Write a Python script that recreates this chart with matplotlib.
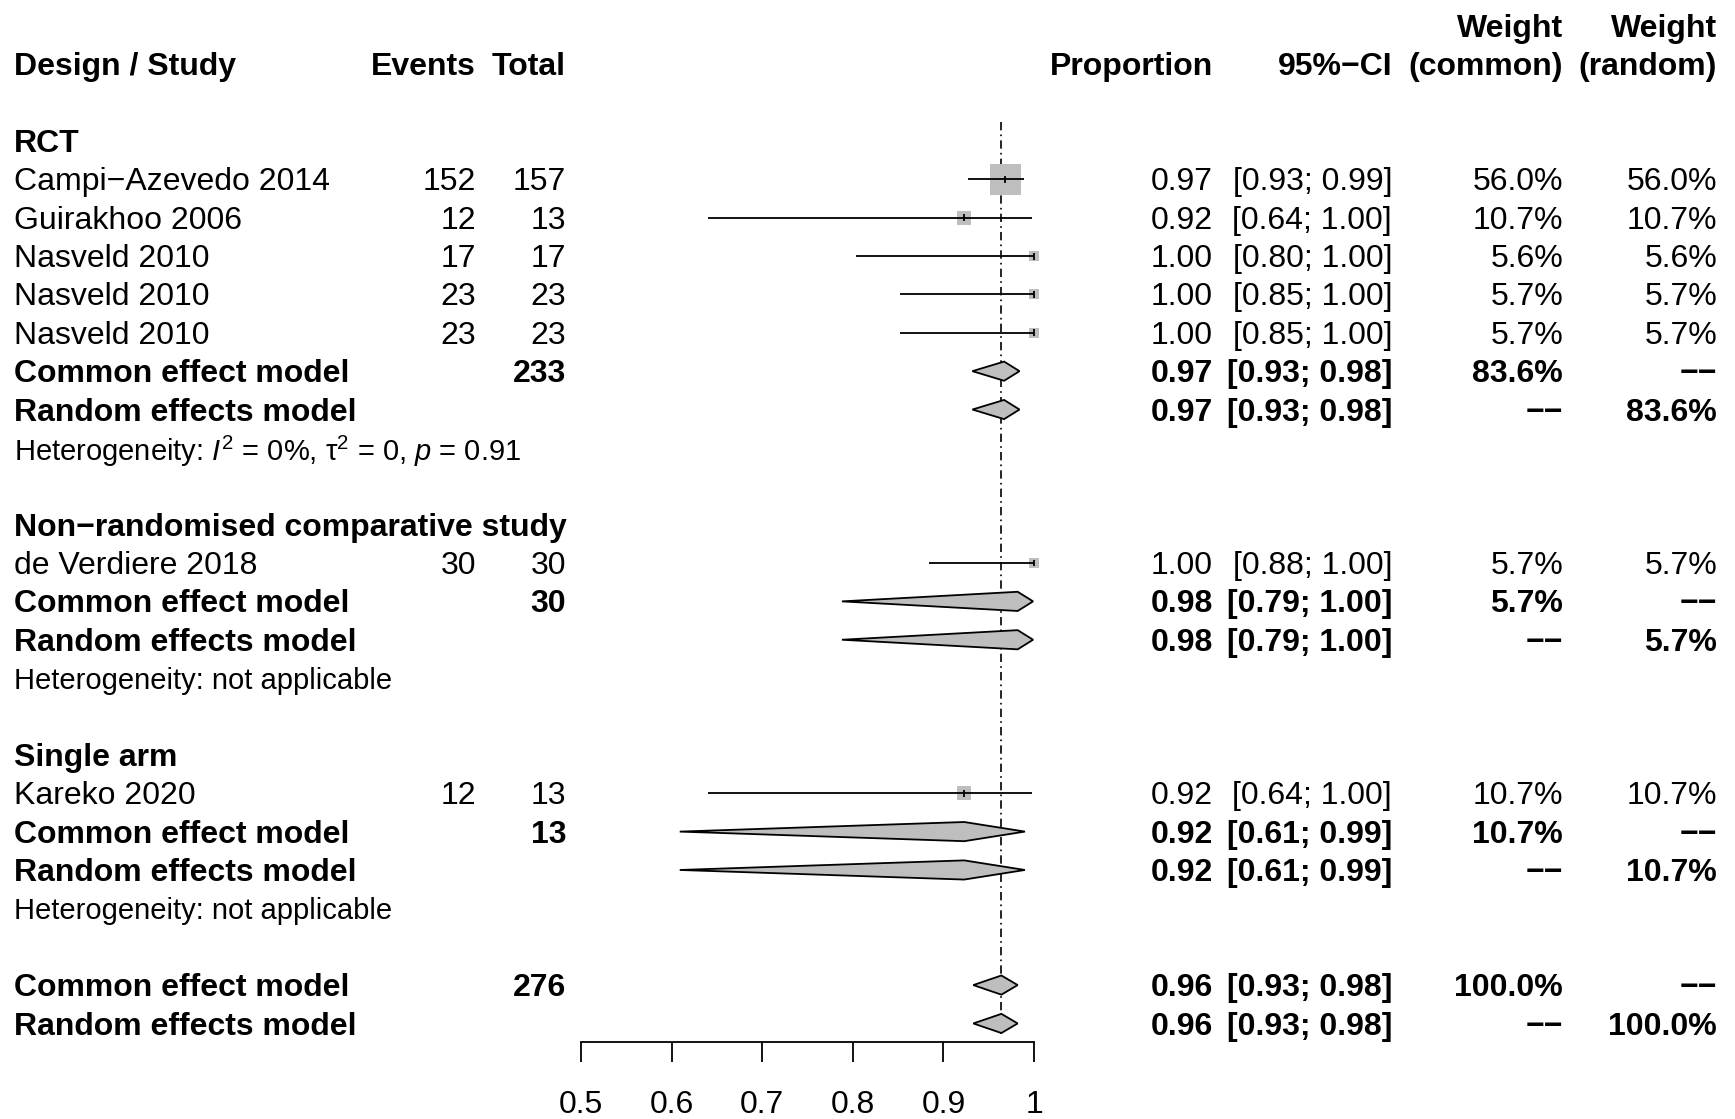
import numpy as np
import matplotlib
matplotlib.use("Agg")
import matplotlib.pyplot as plt
from matplotlib.patches import Polygon

plt.rcParams['font.family'] = ['Liberation Sans', 'DejaVu Sans']
plt.rcParams['mathtext.fontset'] = 'custom'
plt.rcParams['mathtext.rm'] = 'Liberation Sans'
plt.rcParams['mathtext.it'] = 'Liberation Sans:italic'
plt.rcParams['mathtext.bf'] = 'Liberation Sans:bold'

# ---------------- data ----------------
groups = ["RCT", "Non\u2212randomised comparative study", "Single arm"]
study_names = ["Campi\u2212Azevedo 2014", "Guirakhoo 2006", "Nasveld 2010",
               "Nasveld 2010", "Nasveld 2010", "de Verdiere 2018", "Kareko 2020"]
study_group = [0, 0, 0, 0, 0, 1, 2]
events = [152, 12, 17, 23, 23, 30, 12]
totals = [157, 13, 17, 23, 23, 30, 13]
prop = [0.968, 0.923, 1.000, 1.000, 1.000, 1.000, 0.923]
ci_low = [0.927, 0.640, 0.803, 0.852, 0.852, 0.884, 0.640]
ci_up = [0.989, 0.998, 1.000, 1.000, 1.000, 1.000, 0.998]
w_common = [56.0, 10.7, 5.6, 5.7, 5.7, 5.7, 10.7]
w_random = [56.0, 10.7, 5.6, 5.7, 5.7, 5.7, 10.7]

# subgroup pooled estimates (common and random coincide here)
grp_total = [233, 30, 13]
grp_est = [0.967, 0.982, 0.923]
grp_low = [0.932, 0.788, 0.609]
grp_up = [0.984, 0.999, 0.990]
grp_weight = [83.6, 5.7, 10.7]
grp_het = [r"Heterogeneity: $\mathit{I}^2$ = 0%, $\mathrm{\tau}^2$ = 0, $\mathit{p}$ = 0.91",
           "Heterogeneity: not applicable",
           "Heterogeneity: not applicable"]

overall_total = 276
overall_est = 0.964
overall_low = 0.933
overall_up = 0.982

x_ticks = [0.5, 0.6, 0.7, 0.8, 0.9, 1.0]
x_tick_labels = ["0.5", "0.6", "0.7", "0.8", "0.9", "1"]

# ---------------- layout ----------------
W, H = 1735, 1119
ROW0, ROWH = 64.2, 38.37          # pixel centre of header row, row height
y_top = -ROW0 / ROWH
y_bot = (H - ROW0) / ROWH
AX_LEFT, AX_RIGHT, AX_LINE = 581, 1034, 1042.3
y_axis = (AX_LINE - ROW0) / ROWH
TXT_DY = 0.08                      # optical centring of text on the row

FS = 23
FS_HET = 21

col_study = 14
col_events = 476
col_total = 566
col_prop = 1213
col_ci = 1392
col_wc = 1563
col_wr = 1717

GREY = "#BEBEBE"
LW = 1.3

fig = plt.figure(figsize=(W / 100, H / 100), dpi=100)
ax_txt = fig.add_axes([0, 0, 1, 1])
ax_txt.set_xlim(0, W)
ax_txt.set_ylim(y_bot, y_top)
ax_txt.axis("off")

ax = fig.add_axes([AX_LEFT / W, (H - AX_LINE) / H, (AX_RIGHT - AX_LEFT) / W, AX_LINE / H])
ax.set_xlim(0.5, 1.0)
ax.set_ylim(y_axis, y_top)
ax.patch.set_alpha(0)
for s in ("top", "left", "right"):
    ax.spines[s].set_visible(False)
ax.spines["bottom"].set_linewidth(LW)
ax.set_yticks([])
ax.set_xticks(x_ticks)
ax.set_xticklabels(x_tick_labels)
ax.tick_params(axis="x", direction="out", length=14.2, width=LW, pad=20, labelsize=FS)


def txt(x, row, s, ha="left", bold=False, size=FS):
    ax_txt.text(x, row + TXT_DY, s, ha=ha, va="center", fontsize=size,
                fontweight="bold" if bold else "normal")


def fmt_ci(lo, hi):
    return f"[{lo:.2f}; {hi:.2f}]"


def diamond(row, est, lo, hi, h=0.25):
    poly = Polygon([[lo, row], [est, row - h], [hi, row], [est, row + h]],
                   closed=True, facecolor=GREY, edgecolor="black", lw=LW,
                   clip_on=False, zorder=3)
    ax.add_patch(poly)


def summary_rows(row, label_c, label_r, total, est, lo, hi, wc_text, wr_text):
    txt(col_study, row, label_c, bold=True)
    if total is not None:
        txt(col_total, row, str(total), ha="right", bold=True)
    txt(col_prop, row, f"{est:.2f}", ha="right", bold=True)
    txt(col_ci, row, fmt_ci(lo, hi), ha="right", bold=True)
    txt(col_wc, row, wc_text, ha="right", bold=True)
    txt(col_wr, row, "\u2212\u2212", ha="right", bold=True)
    diamond(row, est, lo, hi)
    row += 1
    txt(col_study, row, label_r, bold=True)
    txt(col_prop, row, f"{est:.2f}", ha="right", bold=True)
    txt(col_ci, row, fmt_ci(lo, hi), ha="right", bold=True)
    txt(col_wc, row, "\u2212\u2212", ha="right", bold=True)
    txt(col_wr, row, wr_text, ha="right", bold=True)
    diamond(row, est, lo, hi)
    return row


# header
txt(col_study, 0, "Design / Study", bold=True)
txt(col_events, 0, "Events", ha="right", bold=True)
txt(col_total, 0, "Total", ha="right", bold=True)
txt(col_prop, 0, "Proportion", ha="right", bold=True)
txt(col_ci, 0, "95%\u2212CI", ha="right", bold=True)
txt(col_wc, -1, "Weight", ha="right", bold=True)
txt(col_wc, 0, "(common)", ha="right", bold=True)
txt(col_wr, -1, "Weight", ha="right", bold=True)
txt(col_wr, 0, "(random)", ha="right", bold=True)

row = 2
for g, gname in enumerate(groups):
    txt(col_study, row, gname, bold=True)
    row += 1
    for i in range(len(study_names)):
        if study_group[i] != g:
            continue
        txt(col_study, row, study_names[i])
        txt(col_events, row, str(events[i]), ha="right")
        txt(col_total, row, str(totals[i]), ha="right")
        txt(col_prop, row, f"{prop[i]:.2f}", ha="right")
        txt(col_ci, row, fmt_ci(ci_low[i], ci_up[i]), ha="right")
        txt(col_wc, row, f"{w_common[i]:.1f}%", ha="right")
        txt(col_wr, row, f"{w_random[i]:.1f}%", ha="right")
        side_pt = 31 * 0.72 * np.sqrt(w_common[i] / 56.0)
        ax.scatter([prop[i]], [row], s=side_pt ** 2, marker="s", color=GREY,
                   linewidths=0, clip_on=False, zorder=2)
        ax.plot([ci_low[i], ci_up[i]], [row, row], color="black", lw=LW,
                clip_on=False, zorder=3, solid_capstyle="butt")
        ax.plot([prop[i], prop[i]], [row - 0.09, row + 0.09], color="black",
                lw=LW, clip_on=False, zorder=3, solid_capstyle="butt")
        row += 1
    wtxt = f"{grp_weight[g]:.1f}%"
    row = summary_rows(row, "Common effect model", "Random effects model",
                       grp_total[g], grp_est[g], grp_low[g], grp_up[g], wtxt, wtxt)
    row += 1
    txt(col_study, row, grp_het[g], size=FS_HET)
    row += 2

summary_rows(row, "Common effect model", "Random effects model", overall_total,
             overall_est, overall_low, overall_up, "100.0%", "100.0%")

# reference line at the pooled estimate
ax.plot([overall_est, overall_est], [1.5, row + 1.27], color="black", lw=1.2,
        linestyle=(0, (5, 2.5, 1, 2.5)), clip_on=False, zorder=1)

fig.savefig("out.png", dpi=100)
